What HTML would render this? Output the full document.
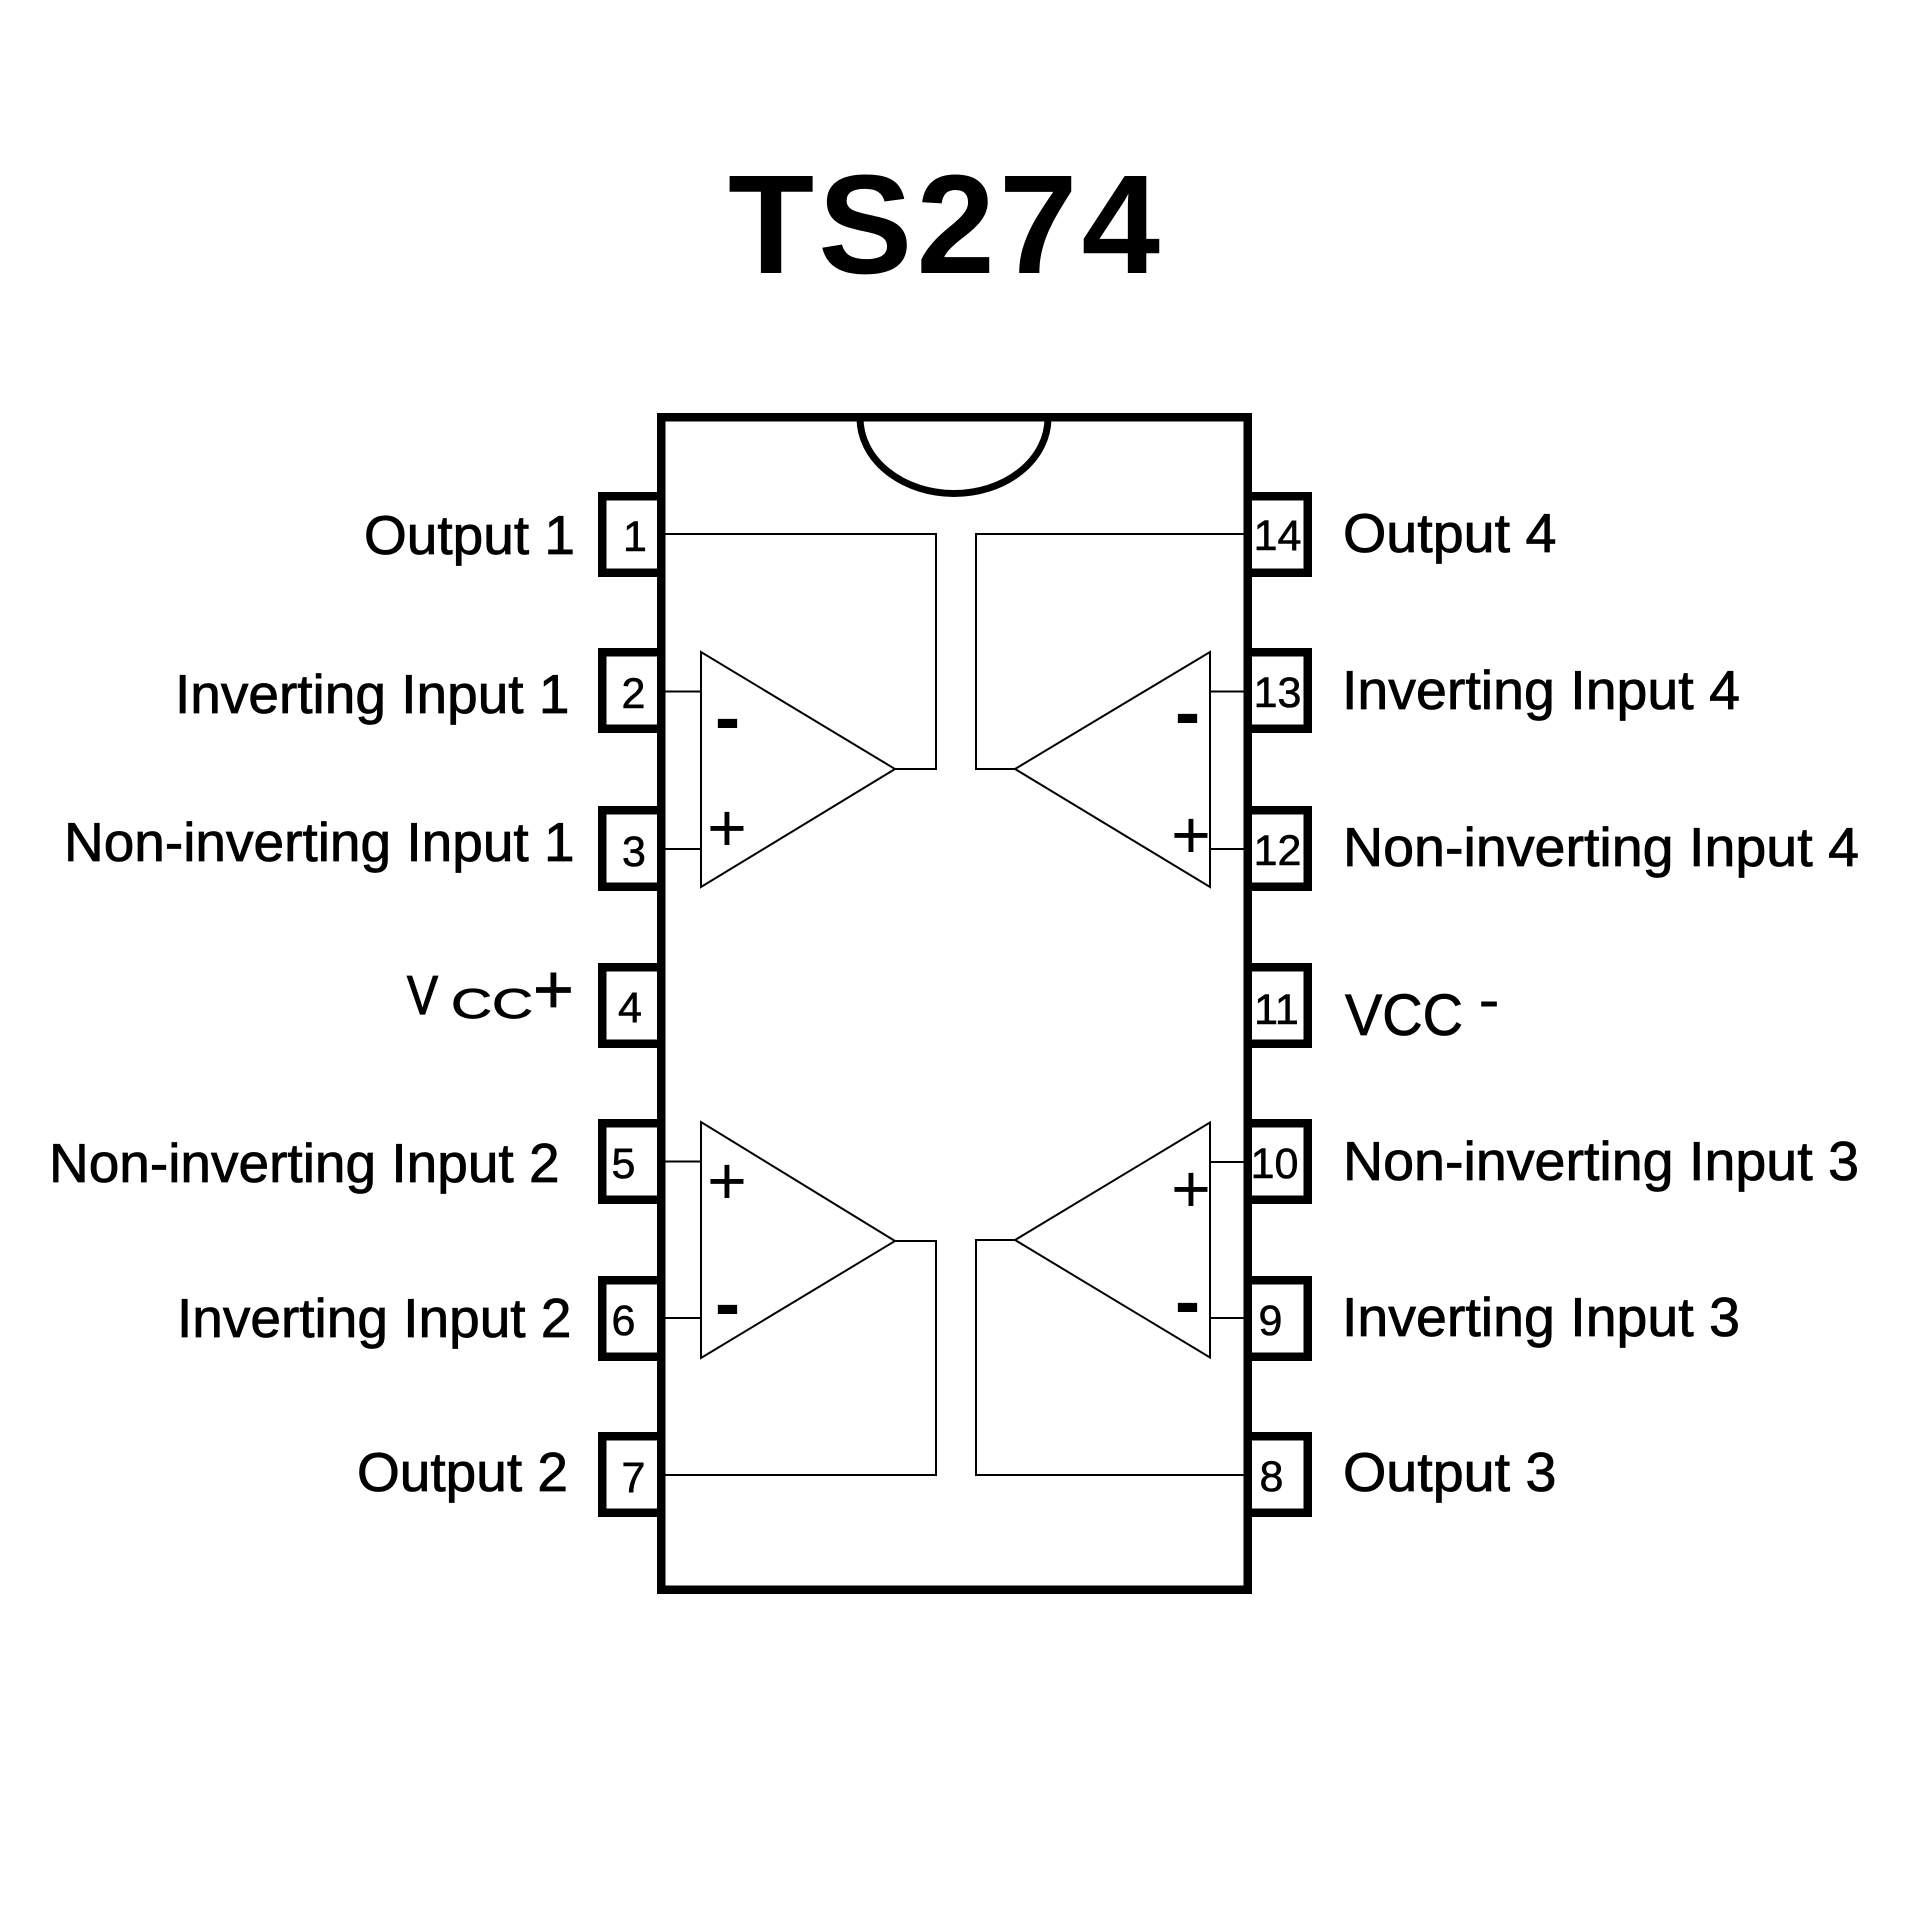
<!DOCTYPE html>
<html>
<head>
<meta charset="utf-8">
<style>
  html, body { margin: 0; padding: 0; background: #ffffff; }
  body { width: 1920px; height: 1920px; overflow: hidden; }
  svg { display: block; }
  .lbl { font-family: "Liberation Sans", Arial, sans-serif; font-size: 55px; fill: #000; stroke: #000; stroke-width: 0.8px; }
  .num { font-family: "Liberation Sans", Arial, sans-serif; font-size: 43px; fill: #000; stroke: #000; stroke-width: 0.6px; text-anchor: middle; }
  .sgn { font-family: "Liberation Sans", Arial, sans-serif; fill: #000; text-anchor: middle; }
</style>
</head>
<body>
<svg width="1920" height="1920" viewBox="0 0 1920 1920" xmlns="http://www.w3.org/2000/svg">
  <rect x="0" y="0" width="1920" height="1920" fill="#ffffff"/>

  <!-- Title -->
  <text x="728" y="273" font-family="'Liberation Sans', Arial, sans-serif" font-weight="bold" font-size="141" textLength="432" lengthAdjust="spacing" fill="#000">TS274</text>

  <!-- Chip body -->
  <rect x="661.25" y="417.25" width="586.5" height="1172.5" fill="none" stroke="#000" stroke-width="8.5"/>
  <!-- Notch -->
  <path d="M 860 418 A 94 75.5 0 0 0 1048 418" fill="none" stroke="#000" stroke-width="7"/>

  <!-- Left pin boxes -->
  <g fill="none" stroke="#000" stroke-width="8.5">
    <rect x="602.25" y="496.25" width="59" height="76.5"/>
    <rect x="602.25" y="652.25" width="59" height="76.5"/>
    <rect x="602.25" y="810.25" width="59" height="76.5"/>
    <rect x="602.25" y="967.25" width="59" height="76.5"/>
    <rect x="602.25" y="1123.25" width="59" height="76.5"/>
    <rect x="602.25" y="1280.25" width="59" height="76.5"/>
    <rect x="602.25" y="1436.25" width="59" height="76.5"/>
  </g>
  <!-- Right pin boxes -->
  <g fill="none" stroke="#000" stroke-width="8.5">
    <rect x="1247.75" y="496.25" width="60" height="76.5"/>
    <rect x="1247.75" y="652.25" width="60" height="76.5"/>
    <rect x="1247.75" y="810.25" width="60" height="76.5"/>
    <rect x="1247.75" y="967.25" width="60" height="76.5"/>
    <rect x="1247.75" y="1123.25" width="60" height="76.5"/>
    <rect x="1247.75" y="1280.25" width="60" height="76.5"/>
    <rect x="1247.75" y="1436.25" width="60" height="76.5"/>
  </g>

  <!-- Internal wiring -->
  <g fill="none" stroke="#000" stroke-width="2" stroke-linejoin="miter">
    <!-- Op-amp 1 (top-left) -->
    <polygon points="701,652 701,887 895,769"/>
    <line x1="665" y1="691.5" x2="701" y2="691.5"/>
    <line x1="665" y1="849" x2="701" y2="849"/>
    <polyline points="895,769 936,769 936,534 665,534"/>

    <!-- Op-amp 4 (top-right) -->
    <polygon points="1210,652 1210,887 1015,769"/>
    <line x1="1210" y1="691.5" x2="1244" y2="691.5"/>
    <line x1="1210" y1="849" x2="1244" y2="849"/>
    <polyline points="1015,769 976,769 976,534 1244,534"/>

    <!-- Op-amp 2 (bottom-left) -->
    <polygon points="701,1122 701,1358 895,1241"/>
    <line x1="665" y1="1161.5" x2="701" y2="1161.5"/>
    <line x1="665" y1="1318" x2="701" y2="1318"/>
    <polyline points="895,1241 936,1241 936,1475 665,1475"/>

    <!-- Op-amp 3 (bottom-right) -->
    <polygon points="1210,1122.5 1210,1357.5 1015,1240"/>
    <line x1="1210" y1="1162" x2="1244" y2="1162"/>
    <line x1="1210" y1="1318" x2="1244" y2="1318"/>
    <polyline points="1015,1240 976,1240 976,1475 1244,1475"/>
  </g>

  <!-- Op-amp signs -->
  <g class="sgn">
    <text x="727" y="851" font-size="68">+</text>
    <text x="727.5" y="743" font-size="76" font-weight="bold">-</text>

    <text x="1191" y="858" font-size="68">+</text>
    <text x="1187.5" y="738" font-size="76" font-weight="bold">-</text>

    <text x="727" y="1204" font-size="68">+</text>
    <text x="727.5" y="1329" font-size="76" font-weight="bold">-</text>

    <text x="1191" y="1212" font-size="68">+</text>
    <text x="1187.5" y="1327" font-size="76" font-weight="bold">-</text>
  </g>

  <!-- Pin numbers -->
  <g class="num">
    <text x="635" y="551">1</text>
    <text x="633.5" y="708">2</text>
    <text x="634" y="866">3</text>
    <text x="630" y="1022">4</text>
    <text x="623.5" y="1178">5</text>
    <text x="623.5" y="1335">6</text>
    <text x="633.5" y="1492">7</text>

    <text x="1277.5" y="550">14</text>
    <text x="1277.5" y="707">13</text>
    <text x="1277.5" y="865">12</text>
    <text x="1276.5" y="1024">11</text>
    <text x="1274.5" y="1178">10</text>
    <text x="1270.5" y="1335">9</text>
    <text x="1271.5" y="1491">8</text>
  </g>

  <!-- Left labels -->
  <text class="lbl" x="364" y="554">Output 1</text>
  <text class="lbl" x="175" y="713">Inverting Input 1</text>
  <text class="lbl" x="64" y="861">Non-inverting Input 1</text>
  <text class="lbl" x="407" y="1014" textLength="31" lengthAdjust="spacingAndGlyphs" style="stroke-width:1.2px">V</text>
  <text class="lbl" x="451" y="1018" style="font-size:42px" textLength="82" lengthAdjust="spacingAndGlyphs">CC</text>
  <text class="sgn" x="553.5" y="1013" font-size="70" stroke="#000" stroke-width="0.8">+</text>
  <text class="lbl" x="49" y="1182">Non-inverting Input 2</text>
  <text class="lbl" x="177" y="1337">Inverting Input 2</text>
  <text class="lbl" x="357" y="1491">Output 2</text>

  <!-- Right labels -->
  <text class="lbl" x="1343" y="552" textLength="213.5" lengthAdjust="spacingAndGlyphs">Output 4</text>
  <text class="lbl" x="1342" y="709" textLength="398" lengthAdjust="spacingAndGlyphs">Inverting Input 4</text>
  <text class="lbl" x="1343" y="866" textLength="516" lengthAdjust="spacingAndGlyphs">Non-inverting Input 4</text>
  <text class="lbl" x="1345" y="1035" style="font-size:58px" textLength="118" lengthAdjust="spacingAndGlyphs">VCC</text>
  <text class="sgn" x="1489" y="1021" font-size="64">-</text>
  <text class="lbl" x="1343" y="1180" textLength="516" lengthAdjust="spacingAndGlyphs">Non-inverting Input 3</text>
  <text class="lbl" x="1342" y="1336" textLength="398" lengthAdjust="spacingAndGlyphs">Inverting Input 3</text>
  <text class="lbl" x="1343" y="1491" textLength="213.5" lengthAdjust="spacingAndGlyphs">Output 3</text>
</svg>
</body>
</html>
